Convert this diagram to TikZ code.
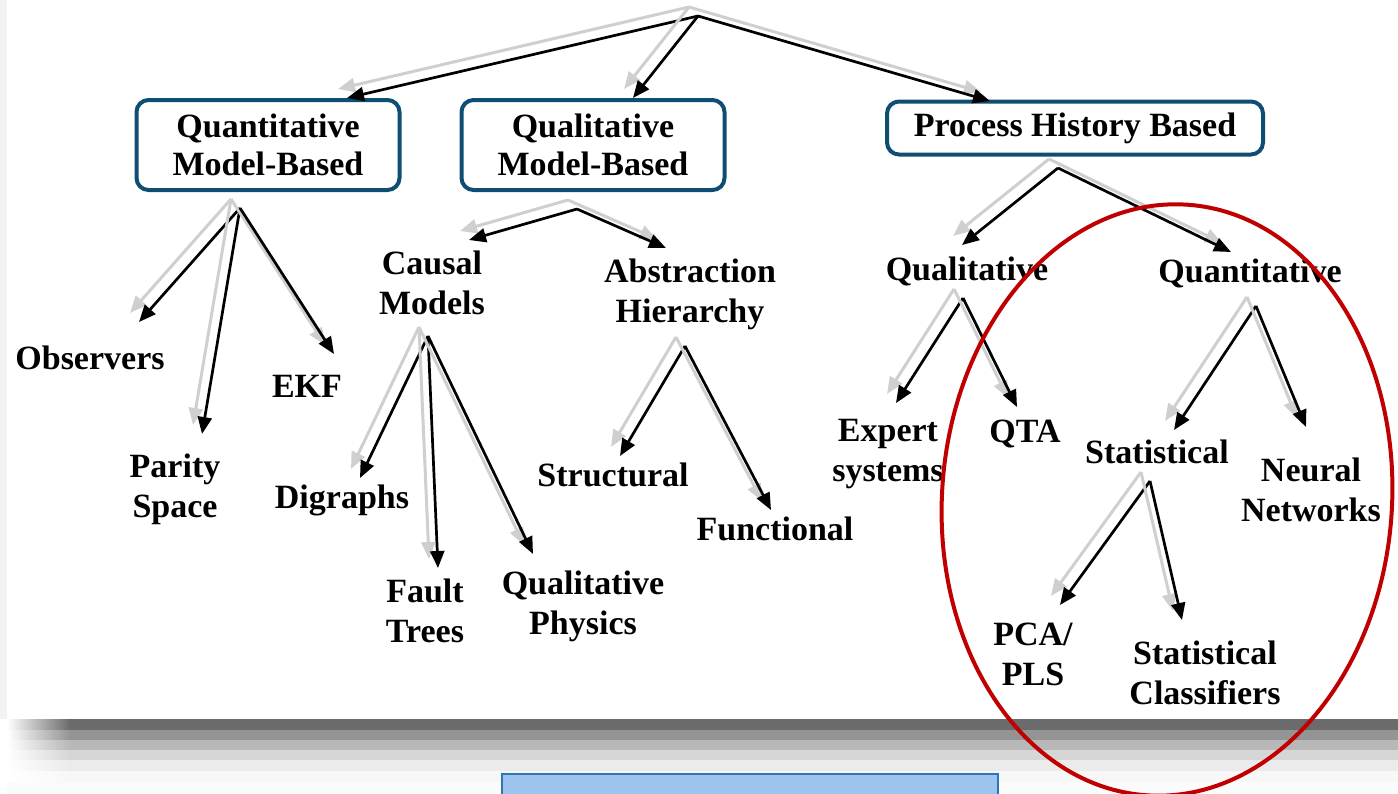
\documentclass[tikz,border=0pt]{standalone}
\usepackage{fontspec}
\setmainfont{Liberation Serif}
\usetikzlibrary{arrows.meta}
\definecolor{boxblue}{RGB}{14,78,114}
\definecolor{ringred}{RGB}{192,0,0}
\definecolor{barblue}{RGB}{157,195,238}
\definecolor{baredge}{RGB}{46,117,182}

% black arrow with its grey shadow behind it
\newcommand{\shadedlink}[2]{%
  \draw[ghost] ([shift={(-9,-9)}]#1) -- ([shift={(-9,-9)}]#2);
  \draw[link] (#1) -- (#2);}

\begin{document}
\begin{tikzpicture}[x=1pt,y=-1pt,
          box/.style={draw=boxblue,line width=4pt,rounded corners=12pt,fill=white,
            align=center,inner sep=0pt,font=\bfseries\fontsize{34}{38}\selectfont},
          leaf/.style={align=center,inner sep=0pt,font=\bfseries\fontsize{34}{40}\selectfont},
          link/.style={line width=2.7pt,-{Triangle[length=17pt,width=14pt]}},
          ghost/.style={line width=3pt,gray!38,-{Triangle[length=17pt,width=14pt]}}]
          \clip (0,0) rectangle (1398,793);
          % page, frame shadow and bar below
          \fill[gray!10] (0,0) rectangle (7,719);
          \fill[white!97!gray] (7,719) rectangle (1398,793);
          \foreach \ya/\yb/\tone in {719/730/58,730/740/42,740/750/28,750/760/16,760/771/8,771/782/3}{
            \shade[left color=white,right color=black!\tone] (7,\ya) rectangle (70,\yb);
            \fill[black!\tone] (70,\ya) rectangle (1398,\yb);
          }
          \draw[baredge,line width=1.5pt,fill=barblue] (502,774) rectangle (998,800);

          % top level
          \node[box,minimum width=263pt,minimum height=90pt] (qmb) at (268,145) {Quantitative\\Model-Based};
          \node[box,minimum width=263pt,minimum height=90pt] (qlmb) at (593,145) {Qualitative\\Model-Based};
          \node[box,minimum width=376pt,minimum height=53pt] (phb) at (1075,128) {Process History Based};

          % leaves
          \node[leaf] (obs) at (90,358) {Observers};
          \node[leaf] (par) at (175,489) {Parity\\Space};
          \node[leaf] (ekf) at (307,386) {EKF};
          \node[leaf] (cau) at (432,283) {Causal\\Models};
          \node[leaf] (abs) at (690,294) {Abstraction\\Hierarchy};
          \node[leaf] (dig) at (342,500) {Digraphs};
          \node[leaf] (fau) at (425,611) {Fault\\Trees};
          \node[leaf] (qph) at (583,606) {Qualitative\\Physics};
          \node[leaf] (str) at (613,475) {Structural};
          \node[leaf] (fun) at (775,529) {Functional};
          \node[leaf] (qual) at (967,271) {Qualitative};
          \node[leaf] (quan) at (1250,273) {Quantitative};
          \node[leaf] (exp) at (888,454) {Expert\\systems};
          \node[leaf] (qta) at (1025,434) {QTA};
          \node[leaf] (stat) at (1157,452) {Statistical};
          \node[leaf] (neu) at (1311,490) {Neural\\Networks};
          \node[leaf] (pca) at (1033,654) {PCA/\\PLS};
          \node[leaf] (cls) at (1205,673) {Statistical\\Classifiers};

          % where the arrows leave and land
          \coordinate (root) at (698,16);
          \coordinate (qmb-out) at (240,208);
          \coordinate (qlmb-out) at (577,209);
          \coordinate (cau-out) at (428,336);
          \coordinate (abs-out) at (685,346);
          \coordinate (phb-out) at (1058,168);
          \coordinate (qual-out) at (963,298);
          \coordinate (quan-out) at (1256,306);
          \coordinate (stat-out) at (1150,481);
          \coordinate (qmb-in) at (347,98);
          \coordinate (qlmb-in) at (633,98);
          \coordinate (phb-in) at (990,101);
          \coordinate (obs-in) at (139,322);
          \coordinate (par-in) at (202,434);
          \coordinate (ekf-in) at (334,354);
          \coordinate (cau-in) at (469,240);
          \coordinate (abs-in) at (666,248);
          \coordinate (dig-in) at (360,478);
          \coordinate (fau-in) at (438,568);
          \coordinate (qph-in) at (533,554);
          \coordinate (str-in) at (620,456);
          \coordinate (fun-in) at (771,510);
          \coordinate (qual-in) at (962,245);
          \coordinate (quan-in) at (1231,252);
          \coordinate (exp-in) at (896,403);
          \coordinate (qta-in) at (1017,407);
          \coordinate (stat-in) at (1174,430);
          \coordinate (neu-in) at (1306,427);
          \coordinate (pca-in) at (1060,605);
          \coordinate (cls-in) at (1182,620);

          \shadedlink{root}{qmb-in}
          \shadedlink{root}{qlmb-in}
          \shadedlink{root}{phb-in}
          \shadedlink{qmb-out}{obs-in}
          \shadedlink{qmb-out}{par-in}
          \shadedlink{qmb-out}{ekf-in}
          \shadedlink{qlmb-out}{cau-in}
          \shadedlink{qlmb-out}{abs-in}
          \shadedlink{cau-out}{dig-in}
          \shadedlink{cau-out}{fau-in}
          \shadedlink{cau-out}{qph-in}
          \shadedlink{abs-out}{str-in}
          \shadedlink{abs-out}{fun-in}
          \shadedlink{phb-out}{qual-in}
          \shadedlink{phb-out}{quan-in}
          \shadedlink{qual-out}{exp-in}
          \shadedlink{qual-out}{qta-in}
          \shadedlink{quan-out}{stat-in}
          \shadedlink{quan-out}{neu-in}
          \shadedlink{stat-out}{pca-in}
          \shadedlink{stat-out}{cls-in}

          % ring round the data-driven branch
          \draw[ringred,line width=4pt,rotate around={-4:(1167,500)}] (1167,500) ellipse [x radius=225,y radius=296];
        \end{tikzpicture}
\end{document}
